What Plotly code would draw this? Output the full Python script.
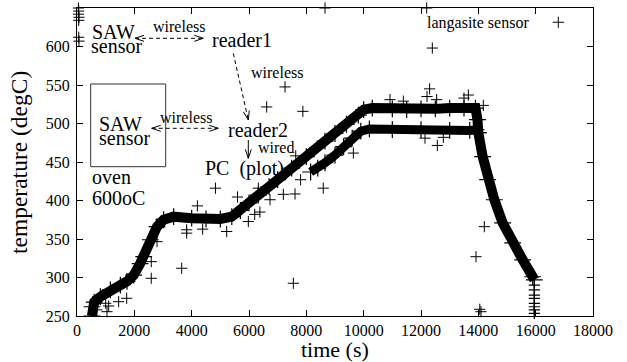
import math
import plotly.graph_objects as go

# ---------------- data ----------------
band_t = [520, 525, 600, 814, 1163, 1512, 1744, 1977, 2200, 2326, 2558, 2791, 3023, 3372,
          4000, 4500, 5000, 5400, 5700, 6000, 6325, 6700, 7000, 7489, 8000, 8651, 9000,
          9400, 9814, 10000, 10300, 11000, 11500, 12000, 12500, 13000, 13500, 13900,
          13970, 14000, 14151, 14326, 14558, 14849, 15198, 15547, 15896, 15953]
band_T = [250, 262, 268, 275, 284, 290, 295, 303, 318, 327, 349, 366, 375, 379,
          377, 376, 376, 379, 387, 397, 407, 418, 427, 442, 457, 477, 487,
          499, 511, 518, 520, 519, 518, 519, 519, 520, 520, 520,
          505, 488, 457, 427, 401, 371, 345, 323, 301, 297]

lower_t = [8150, 8400, 8651, 9000, 9300, 9600, 9900, 10200, 11000, 12000, 13000, 13700, 13920, 14000]
lower_T = [437, 442, 449, 459, 470, 481, 490, 493, 492, 492, 491, 491, 492, 488]

end_t = [15953, 15953, 15953, 15953, 15953, 15953, 15953, 15953, 15953]
end_T = [290, 284, 277, 273, 266.5, 262, 258, 253.5, 249]

out_t = [50, 60, 50, 70, 60, 60, 70,
         7256, 6617, 7880, 7630, 4830, 5600, 7198, 7605, 7800, 6733, 6326, 6200, 6380,
         8651, 12198, 16790, 12395, 12300, 12210, 10919, 11384, 12546, 13651, 13500, 14174,
         12570, 12140, 12779, 9640, 8590,
         1733, 1453, 1000, 1105, 1047, 690, 2590, 2590, 2791, 3652, 4200, 3826, 3826, 4384,
         5221, 5977, 7547, 14209, 13919, 14093, 14050]
out_T = [650, 646, 642, 638, 634, 612, 607,
         547.5, 521.5, 515.8, 458, 416, 404.5, 408, 408.5, 427, 401, 416, 382, 385,
         650, 650, 631.5, 598, 545, 535, 531, 529, 531, 537, 533, 523.5,
         471.5, 481, 482, 461.6, 416,
         273, 268.6, 266.5, 263, 255.6, 258, 299, 320.6, 346.6, 312, 393, 362, 357.6, 362.8,
         359.7, 372.7, 292.5, 366, 327, 255.6, 258.7]

x_ticks = [0, 2000, 4000, 6000, 8000, 10000, 12000, 14000, 16000, 18000]
y_ticks = [250, 300, 350, 400, 450, 500, 550, 600, 650]

# ---------------- layout geometry ----------------
FONT = "Liberation Serif"
W, H = 627, 362
ML, MR, MT, MB = 77, 34, 8, 46
PW, PH = W - ML - MR, H - MT - MB


def pp(px, py):
    """pixel -> paper coordinates"""
    return (px - ML) / PW, (H - MB - py) / PH


fig = go.Figure()

fig.add_trace(go.Scatter(x=band_t, y=band_T, mode="lines+markers",
                         line=dict(color="black", width=10),
                         marker=dict(symbol="cross-thin", size=12, line=dict(width=1.2, color="black")),
                         hoverinfo="skip", showlegend=False))
fig.add_trace(go.Scatter(x=lower_t, y=lower_T, mode="lines+markers",
                         line=dict(color="black", width=9),
                         marker=dict(symbol="cross-thin", size=12, line=dict(width=1.2, color="black")),
                         hoverinfo="skip", showlegend=False))
fig.add_trace(go.Scatter(x=end_t, y=end_T, mode="markers", cliponaxis=False,
                         marker=dict(symbol="cross-thin", size=8, line=dict(width=1.2, color="black")),
                         hoverinfo="skip", showlegend=False))
fig.add_trace(go.Scatter(x=out_t, y=out_T, mode="markers", cliponaxis=False,
                         marker=dict(symbol="cross-thin", size=8, line=dict(width=1, color="black")),
                         hoverinfo="skip", showlegend=False))

# ---------------- labels (text, pixel left x, baseline y, size, box height) ----------------
labels = [
    ("SAW", 90.7, 38, 20, 15), ("sensor", 90, 53, 20, 14), ("wireless", 151.7, 31.7, 16, None),
    ("reader1", 210.7, 47, 20, None), ("wireless", 250, 78.3, 16, None),
    ("SAW", 98.3, 130, 20, 15), ("sensor", 98.3, 145, 20, 14), ("wireless", 159.3, 123.3, 16, None),
    ("reader2", 226.7, 137, 20, None), ("wired", 256.7, 153.3, 16, None),
    ("PC\u00a0\u00a0(plot)", 204, 175, 20, None), ("oven", 90.7, 183.3, 20, None),
    ("600oC", 90.7, 205, 20, None),
    ("langasite sensor", 425.7, 28.3, 16, None),
]
ann = []
for txt, lx, by, fs, hh in labels:
    x, y = pp(lx, by - 0.3375 * fs)
    a = dict(text=txt, x=x, y=y, xref="paper", yref="paper", xanchor="left",
             yanchor="middle", showarrow=False, borderpad=0, valign="middle",
             font=dict(family=FONT, size=fs, color="black"))
    if hh:
        a["height"] = hh
    ann.append(a)

# axis titles
TS = 22
tx, ty = pp(335, 357 - 0.3375 * TS)
ann.append(dict(text="time (s)", x=tx, y=ty, xref="paper", yref="paper", xanchor="center",
                yanchor="middle", showarrow=False, borderpad=0,
                font=dict(family=FONT, size=TS, color="black")))
YS = 23.5
yx, yy = pp(26.5 - 0.3375 * YS, 162.5)
ann.append(dict(text="temperature (degC)", x=yx, y=yy, xref="paper", yref="paper", xanchor="center",
                yanchor="middle", showarrow=False, borderpad=0, textangle=-90,
                font=dict(family=FONT, size=YS, color="black")))

shapes = []
GREY = "#333333"


def seg(p0, p1, dash=None, width=1):
    x0, y0 = pp(*p0)
    x1, y1 = pp(*p1)
    shapes.append(dict(type="line", xref="paper", yref="paper", x0=x0, y0=y0, x1=x1, y1=y1,
                       line=dict(color="black", width=width, dash=dash)))


def head(tip, tail, length=9, half=3):
    dx, dy = tip[0] - tail[0], tip[1] - tail[1]
    n = math.hypot(dx, dy)
    ux, uy = dx / n, dy / n
    bx, by = tip[0] - ux * length, tip[1] - uy * length
    a = (bx - uy * half, by + ux * half)
    b = (bx + uy * half, by - ux * half)
    seg(a, tip)
    seg(b, tip)


def arrow(p0, p1, dash="4px,3px", both=False):
    seg(p0, p1, dash=dash)
    head(p1, p0)
    if both:
        head(p0, p1)


arrow((135, 38.3), (203.3, 38.3), both=True)
arrow((233.3, 53.3), (248.3, 120))
arrow((151.7, 128.3), (218.3, 128.3), both=True)
arrow((248.3, 140), (248.3, 158.3), dash=None)

bx0, by0 = pp(90.7, 84)
bx1, by1 = pp(165.7, 166.7)
shapes.append(dict(type="rect", xref="paper", yref="paper", x0=bx0, y0=by1, x1=bx1, y1=by0,
                   line=dict(color=GREY, width=1)))

axis_common = dict(showline=True, linecolor="black", linewidth=1, mirror="allticks",
                   ticks="inside", ticklen=6, tickwidth=1, tickcolor="black",
                   showgrid=False, zeroline=False,
                   tickfont=dict(family=FONT, size=16, color="black"))

fig.update_layout(
    width=W, height=H, margin=dict(l=ML, r=MR, t=MT, b=MB, autoexpand=False),
    paper_bgcolor="white", plot_bgcolor="white",
    xaxis=dict(range=[0, 18000], tickvals=x_ticks, ticktext=[str(v) for v in x_ticks],
               ticklabelstandoff=0, **axis_common),
    yaxis=dict(range=[250, 650], tickvals=y_ticks, ticktext=[str(v) for v in y_ticks],
               ticklabelstandoff=3, **axis_common),
    annotations=ann, shapes=shapes, showlegend=False,
)

fig.write_html("out.html", config={"displayModeBar": False},
               post_script="document.body.style.margin='0';document.body.style.overflow='hidden';")
